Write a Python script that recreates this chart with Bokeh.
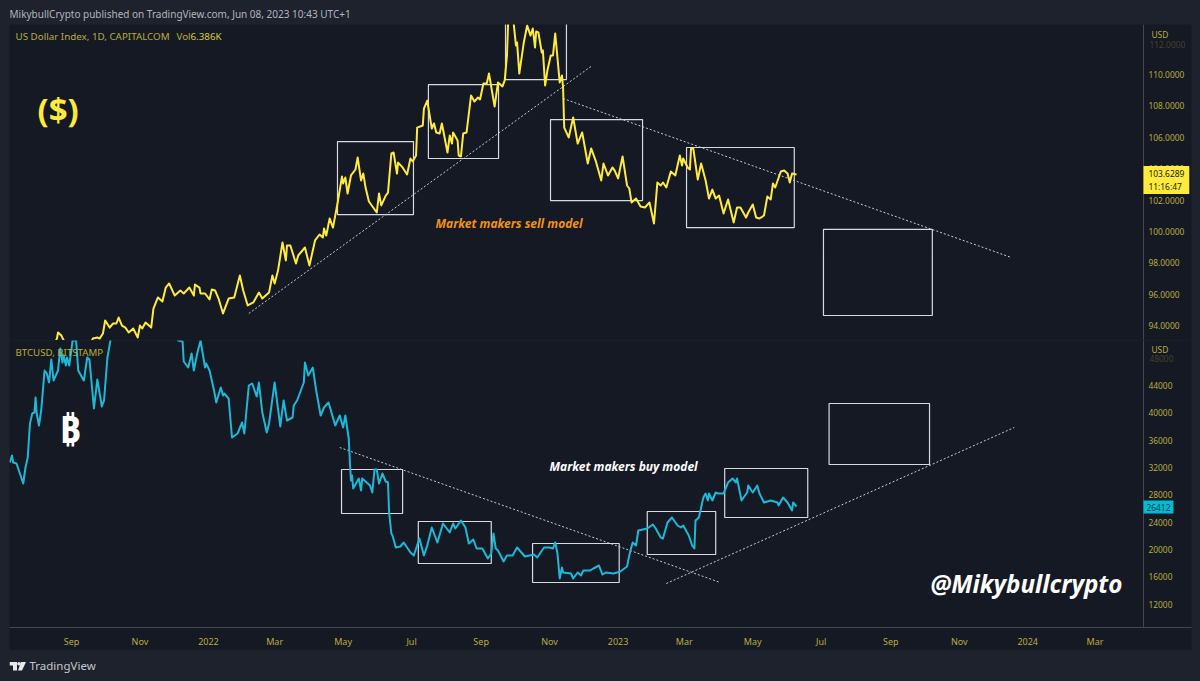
from bokeh.embed import file_html
from bokeh.resources import INLINE
from bokeh.plotting import figure, curdoc
from bokeh.layouts import column
from bokeh.models import Range1d, FixedTicker, Label, CustomJS

# days since 2021-09-01
dxy_days = [-16,-13,-12,-9,-7,4,17,19,23,25,28,30,34,37,40,42,45,48,51,55,59,61,63,66,71,73,77,81,84,87,92,97,100,105,109,110,114,115,119,123,125,128,131,135,140,145,150,153,157,162,167,170,176,179,181,184,188,191,192,195,200,202,208,212,217,221,224,225,227,230,233,237,241,242,244,246,249,253,255,258,260,262,265,272,274,276,280,282,285,287,290,291,295,299,302,304,307,308,313,314,317,321,323,325,328,330,335,337,339,340,344,345,347,349,352,356,359,362,364,367,370,372,375,377,380,384,386,388,389,391,394,396,397,399,403,406,409,411,413,414,416,419,420,422,424,427,429,431,435,437,438,439,443,447,451,455,460,463,467,472,474,478,482,484,487,491,495,497,499,503,507,511,515,519,522,525,527,530,534,538,542,544,545,549,551,552,554,558,561,565,568,571,574,577,581,585,590,593,596,601,603,607,610,613,617,620,623,625,627,632,635,638,640,642,646]
dxy_close = [92.74,93.18,93.57,93.37,93.06,92.74,92.87,93.18,93.25,93.18,93.5,94.33,93.88,94.14,94.14,94.52,94.01,93.88,93.57,93.82,93.25,94.01,93.82,94.2,93.88,95.09,95.8,95.54,96.43,96.69,95.92,96.24,96.05,96.43,95.92,96.62,96.43,96.05,96.05,95.67,96.3,96.24,95.73,94.78,95.73,95.8,97.2,96.24,95.29,95.48,96.11,95.73,96.11,97.2,96.69,97.51,99.3,98.15,99.11,99.11,97.96,98.47,98.98,97.83,99.43,99.81,99.62,100.19,99.74,100.83,100.25,101.78,103.5,103.06,103.44,102.42,103.57,103.95,104.71,103.25,103.69,102.8,101.91,101.21,102.42,101.66,102.29,102.48,104.97,105.03,103.69,104.39,104.08,103.63,104.65,104.46,104.84,106.62,106.75,107.83,108.34,106.56,106.88,106.31,106.24,106.88,105.03,106.11,105.6,106.31,105.8,104.84,104.78,106.24,106.31,108.66,108.28,108.53,108.41,109.43,109.43,110.06,108.79,107.96,109.49,109.24,109.62,111.21,113.25,114.1,113.25,111.85,112.04,110.06,112.04,113.12,112.48,112.93,111.72,112.74,112.68,111.4,111.53,109.3,110.25,111.21,111.21,112.61,109.49,109.94,109.17,106.62,105.99,107.26,105.6,106.31,104.33,105.29,104.52,103.25,104.33,103.57,104.08,103.88,103.38,104.78,102.93,102.74,101.85,102.1,101.59,101.53,101.85,100.51,103.12,102.93,103.12,102.8,103.82,103.57,104.84,104.2,104.65,104.08,103.95,105.29,105.29,103.31,104.33,103.25,102.1,102.67,102.1,102.29,101.15,102.04,100.57,101.53,101.53,100.89,101.21,101.72,100.89,100.83,101.02,102.23,102.04,103.06,102.8,103.82,103.88,103.69,103.12,103.69,103.63]

btc_days = [-55,-53,-52,-49,-43,-41,-39,-37,-35,-33,-32,-31,-29,-27,-24,-22,-20,-18,-16,-12,-10,-8,-7,-5,-4,-2,1,3,4,6,11,14,16,20,23,27,29,32,35,37,42,50,56,62,69,76,82,88,93,95,99,100,104,107,109,112,115,119,120,123,127,129,133,135,136,140,143,148,152,154,158,161,165,167,170,174,176,181,186,189,192,197,198,201,207,208,211,215,218,222,225,229,235,239,242,244,247,248,249,250,251,256,258,259,264,266,268,270,272,274,277,280,282,283,285,286,289,293,296,302,305,310,314,317,321,326,331,337,340,342,347,351,354,358,361,366,371,374,376,378,380,385,388,393,397,404,412,415,421,426,429,431,433,435,437,438,445,447,451,454,456,462,465,470,473,476,483,489,495,496,498,500,503,505,509,513,518,520,525,527,531,535,540,543,545,550,553,555,556,559,561,563,565,567,568,571,574,576,581,585,589,592,593,597,602,603,607,611,613,617,623,629,630,634,638,642,643,646]
btc_close = [32727,33752,32727,32581,29653,31995,33459,38437,39901,40047,42243,39901,38144,40340,46196,45757,44439,47806,44732,46196,49417,47367,48392,46928,48099,46928,50588,50588,50881,46196,44732,48099,47806,40633,44878,40926,41804,48099,50881,52000,60000,62000,61000,63000,66500,60000,57500,57000,53000,50588,50442,47514,46635,48685,46196,48685,50588,46635,47221,46196,43268,41511,43707,42536,42829,42097,36387,36973,38583,36973,44000,44293,42390,44439,40047,37119,38437,44439,37998,41804,38876,39315,41072,41804,44439,47367,45464,46635,43268,39608,40779,41511,38144,39608,37851,39608,36241,33020,30092,30824,28921,30385,28628,30385,29653,29360,28335,31702,31702,29653,31117,29946,29799,25407,22333,22040,20283,20430,21015,19551,19112,21601,19112,20576,23211,21015,23797,22479,23797,23065,24236,23211,20869,21454,20137,20137,18673,19405,22333,20137,19844,18234,19112,19112,20283,18966,19258,18819,20283,20283,20137,21015,19405,15745,17355,16623,16477,15745,16623,16184,16916,16916,17209,17648,16330,16623,16477,16770,17501,18380,19844,21015,20576,22772,22918,23065,23650,23211,21747,21601,23943,24675,23504,23211,23504,22040,20576,20137,24236,24675,26139,27603,28189,27164,28189,27164,28335,28189,28189,29799,30385,29799,30385,27164,28335,29360,28335,29360,28189,26871,27164,26871,26432,27603,26871,25700,26871,26285]

# rectangles drawn on the charts
dxy_box_left = [237,318,386.7,426.8,548,670]
dxy_box_right = [304.7,380.5,441,508.8,644,767]
dxy_box_top = [105.73,109.36,115,107.13,105.35,100.13]
dxy_box_bottom = [101.08,104.65,109.68,101.97,100.25,94.65]

btc_box_left = [240.6,309,410.8,513,582,675]
btc_box_right = [295,374,488,574,656,764.5]
btc_box_top = [31702,24090,20870,25554,31849,41365]
btc_box_bottom = [25261,17940,15160,19258,24675,32434]

# dotted trend lines
dxy_trend_days = [[158,464],[438,837.5]]
dxy_trend_vals = [[94.78,110.57],[108.47,98.34]]
btc_trend_days = [[239,578],[530,840]]
btc_trend_vals = [[34923,15160],[15013,37851]]

# axes
x_tick_days = [0,61,122,181,242,303,365,426,487,546,607,668,730,791,852,912]
x_tick_labels = ["Sep","Nov","2022","Mar","May","Jul","Sep","Nov","2023","Mar","May","Jul","Sep","Nov","2024","Mar"]
dxy_ticks = [94,96,98,100,102,104,106,108,110]
btc_ticks = [12000,16000,20000,24000,28000,32000,36000,40000,44000]

# footer logo outline
logo_t_x = [9,16.5,16.5,12.5,12.5,9]
logo_t_y = [661.5,661.5,670,670,665,665]
logo_seven_x = [20.5,25.5,21.5,17.5]
logo_seven_y = [661.5,661.5,670,670]

OUTER = "#1e222d"
PANEL = "#151924"
AXIS_LINE = "#434651"
OLIVE = "#b8ad3e"
YELLOW = "#ffeb3b"
CYAN = "#1cb8d8"
WHITE = "#d8dae0"
FONT = "Noto Sans"
AXIS_DAY = 955.15   # where the price axis stands on the time scale
LAST_DAY = 997.92


def base(h, y0, y1, bottom):
    p = figure(width=1200, height=h, frame_width=1182, frame_height=h - bottom,
               x_range=Range1d(-55.24, LAST_DAY), y_range=Range1d(y0, y1), y_axis_location="right",
               output_backend="svg", toolbar_location=None,
               min_border_left=9, min_border_right=9, min_border_top=0, min_border_bottom=bottom,
               background_fill_color=PANEL, border_fill_color=OUTER, outline_line_color=None)
    p.grid.visible = False
    ax = p.yaxis[0]
    ax.fixed_location = AXIS_DAY
    ax.major_tick_line_color = None
    ax.minor_tick_line_color = None
    ax.major_tick_out = 0
    ax.axis_line_color = AXIS_LINE
    ax.major_label_text_color = OLIVE
    ax.major_label_text_font = FONT
    ax.major_label_text_font_size = "8.4px"
    ax.major_label_standoff = 5
    return p


def band(h, y0, y1):
    p = figure(width=1200, height=h, frame_width=1182, frame_height=h,
               x_range=Range1d(9, 1191), y_range=Range1d(y0, y1),
               output_backend="svg", toolbar_location=None,
               min_border_left=9, min_border_right=9, min_border_top=0, min_border_bottom=0,
               background_fill_color=OUTER, border_fill_color=OUTER, outline_line_color=None)
    p.grid.visible = False
    p.axis.visible = False
    return p


header = band(24, 24, 0)
p1 = base(316, 93.057, 113.185, 0)
p2 = base(310, 8571, 50588, 23)
footer = band(31, 681, 650)

p1.xaxis.visible = False
ax = p2.xaxis[0]
ax.ticker = FixedTicker(ticks=x_tick_days)
ax.major_label_overrides = dict(zip(x_tick_days, x_tick_labels))
ax.major_tick_line_color = None
ax.minor_tick_line_color = None
ax.major_tick_out = 0
ax.axis_line_color = AXIS_LINE
ax.major_label_text_color = OLIVE
ax.major_label_text_font = FONT
ax.major_label_text_font_size = "9px"
ax.major_label_standoff = 7
ax.background_fill_color = PANEL

p1.yaxis[0].ticker = FixedTicker(ticks=dxy_ticks)
p1.yaxis[0].major_label_overrides = {t: f"{t:.4f}" for t in dxy_ticks}
p2.yaxis[0].ticker = FixedTicker(ticks=btc_ticks)
p2.yaxis[0].major_label_overrides = {t: str(t) for t in btc_ticks}

# boxes
p1.quad(left=dxy_box_left, right=dxy_box_right, top=dxy_box_top, bottom=dxy_box_bottom,
        fill_color=None, line_color=WHITE, line_width=1.2)
p2.quad(left=btc_box_left, right=btc_box_right, top=btc_box_top, bottom=btc_box_bottom,
        fill_color=None, line_color=WHITE, line_width=1.2)

# trend lines
t1 = p1.multi_line(dxy_trend_days, dxy_trend_vals, line_color="#c8cbd2", line_width=1)
t2 = p2.multi_line(btc_trend_days, btc_trend_vals, line_color="#c8cbd2", line_width=1)
t1.glyph.line_dash = [2, 2]
t2.glyph.line_dash = [2, 2]

# price lines
p1.line(dxy_days, dxy_close, line_color=YELLOW, line_width=2, line_join="round")
p2.line(btc_days, btc_close, line_color=CYAN, line_width=2, line_join="round")

# footer logo
footer.patch(logo_t_x, logo_t_y, fill_color="#e8e9ec", line_color=None)
footer.patch(logo_seven_x, logo_seven_y, fill_color="#e8e9ec", line_color=None)
footer.scatter([18.5], [663.3], size=3.6, fill_color="#e8e9ec", line_color=None)


def text(p, off, X, Y, s, size, color, style="normal", font=FONT, alpha=1.0, **kw):
    p.add_layout(Label(x=X, y=Y - off, x_units="canvas", y_units="canvas", text=s, text_font=font,
                       text_font_size=f"{size}px", text_color=color, text_font_style=style,
                       text_align="left", text_baseline="middle", text_alpha=alpha, **kw))


text(header, 0, 9, 13, "MikybullCrypto published on TradingView.com, Jun 08, 2023 10:43 UTC+1", 10, "#b2b5be")

text(p1, 24, 15, 36, "US Dollar Index, 1D, CAPITALCOM", 9.8, OLIVE)
text(p1, 24, 176, 36, "Vol", 9.8, OLIVE)
text(p1, 24, 190, 36, "6.386K", 9.8, "#d9cb45")
text(p1, 24, 37, 109, "($)", 33, YELLOW, "bold")
text(p1, 24, 435, 223, "Market makers sell model", 12, "#f29111", "bold italic")
text(p1, 24, 1151, 34, "USD", 8.4, OLIVE)
text(p1, 24, 1149, 44, "112.0000", 8.4, OLIVE, alpha=0.3)
text(p1, 24, 1143, 179.5, "103.6289\n11:16:47", 8.4, "#131722", background_fill_color=YELLOW, padding=(5, 2))

text(p2, 340, 15, 352, "BTCUSD, BITSTAMP", 9.7, OLIVE)
text(p2, 340, 59, 428, "₿", 37, "#ffffff", "bold")
text(p2, 340, 549, 466, "Market makers buy model", 12, "#ffffff", "bold italic")
text(p2, 340, 930, 583, "@Mikybullcrypto", 24.2, "#ffffff", "bold italic")
text(p2, 340, 1151, 349, "USD", 8.4, OLIVE)
text(p2, 340, 1149, 358, "48000", 8.4, OLIVE, alpha=0.3)
text(p2, 340, 1143, 506.5, "26412", 8.4, "#0b3540", background_fill_color="#00bcd4", padding=3)

text(footer, 650, 29, 665, "TradingView", 11.5, "#c4c6cc")

page = column(header, p1, p2, footer, spacing=0)
curdoc().add_root(page)
curdoc().js_on_event("document_ready", CustomJS(code=f"document.body.style.background='{OUTER}';document.documentElement.style.background='{OUTER}';"))

open("out.html", "w").write(file_html(page, INLINE))
